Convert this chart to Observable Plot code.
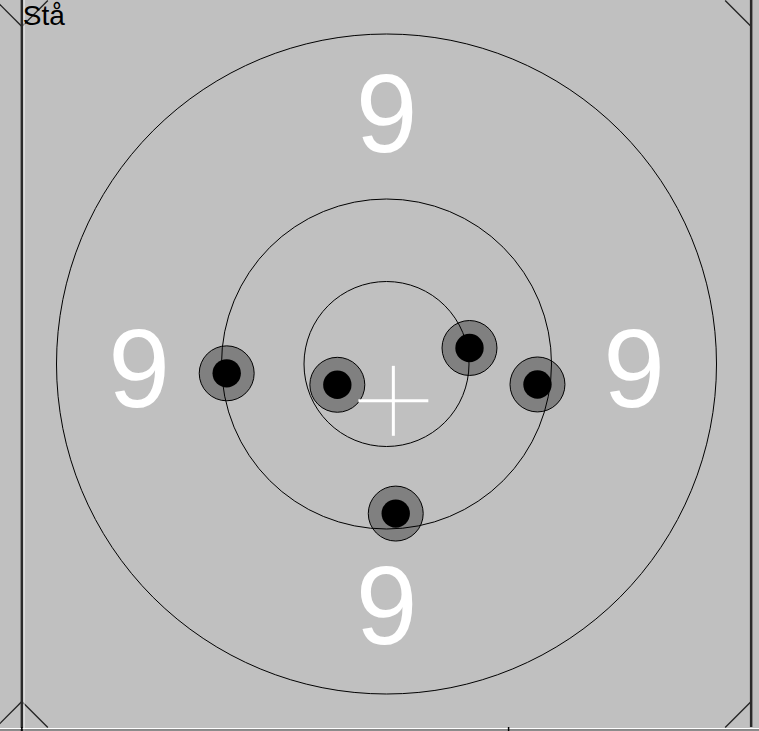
<!DOCTYPE html>
<html><head><meta charset="utf-8">
<script src="https://cdn.jsdelivr.net/npm/d3@7"></script>
<script src="https://cdn.jsdelivr.net/npm/@observablehq/plot@0.6"></script>
<style>html,body{margin:0;padding:0;background:#c0c0c0;} svg{display:block}</style>
</head><body><div id="chart"></div>
<script>
// ---- data ----
const title = "Stå";
const ringRadii = [10, 20, 40];
const ringLabels = ["9", "9", "9", "9"];
const labelX = [0, 0, -30, 30];
const labelY = [30, -29.6, -0.9, -0.9];
const shotX = [-19.37, -5.96, 10.06, 18.30, 1.12];
const shotY = [-1.13, -2.52, 1.94, -2.48, -18.13];
const shotOuterR = 3.33;
const shotInnerR = 1.72;
const crossHalf = 4.24;
const frameHalfX = 44.2;
const frameHalfY = 44.06;
const cornerCut = 3.15;
const axisTicks = [-44.2, 14.8];

// ---- layout ----
const W = 759, H = 731;
const k = 8.25;           // px per unit
const cx = 386, cy = 363.5;
const xDomain = [-cx / k, (W - cx) / k];
const yDomain = [-(H - cy) / k, cy / k];

const shots = shotX.map((x, i) => ({x, y: shotY[i]}));
const labels = ringLabels.map((t, i) => ({t, x: labelX[i], y: labelY[i]}));
const mx = d3.mean(shotX), my = d3.mean(shotY);
const cross = [
  {x1: mx - crossHalf, y1: my, x2: mx + crossHalf, y2: my},
  {x1: mx, y1: my - crossHalf, x2: mx, y2: my + crossHalf}
];
const L = -frameHalfX, R = frameHalfX, T = frameHalfY, B = -frameHalfY, c = cornerCut;
const corners = [
  {x1: L, y1: T - c, x2: L + c, y2: T},
  {x1: L, y1: T - c, x2: L - c, y2: T},
  {x1: R, y1: T - c, x2: R - c, y2: T},
  {x1: L, y1: B + c, x2: L + c, y2: B},
  {x1: L, y1: B + c, x2: L - c, y2: B},
  {x1: R, y1: B + c, x2: R - c, y2: B}
];

const chart = Plot.plot({
  width: W, height: H,
  margin: 0,
  x: {domain: xDomain, axis: null},
  y: {domain: yDomain, axis: null},
  r: {type: "identity"},
  style: {background: "#c0c0c0", fontFamily: "'Liberation Sans', Arial, Helvetica, sans-serif", overflow: "visible"},
  marks: [
    Plot.text(labels, {x: "x", y: "y", text: "t", fill: "white", fontSize: 111, textAnchor: "middle", lineAnchor: "middle"}),
    Plot.dot(shots, {x: "x", y: "y", r: () => shotOuterR * k, fill: "#808080", stroke: "black", strokeWidth: 1}),
    Plot.dot(shots, {x: "x", y: "y", r: () => shotInnerR * k, fill: "black", stroke: "none"}),
    Plot.dot(ringRadii, {x: () => 0, y: () => 0, r: d => d * k, fill: "none", stroke: "black", strokeWidth: 1}),
    Plot.link(cross, {x1: "x1", y1: "y1", x2: "x2", y2: "y2", stroke: "white", strokeWidth: 3}),
    Plot.link(corners, {x1: "x1", y1: "y1", x2: "x2", y2: "y2", stroke: "#222", strokeWidth: 1.3}),
    Plot.ruleX([L], {stroke: "#2a2a2a", strokeWidth: 2.5}),
    Plot.ruleX([L], {stroke: "#f0f0f0", strokeWidth: 1, dx: 2.2}),
    Plot.ruleX([R], {y1: B, y2: yDomain[1], stroke: "#2a2a2a", strokeWidth: 2.5}),
    Plot.ruleY([B], {stroke: "white", strokeWidth: 1, dy: 1}),
    Plot.ruleY([B], {stroke: "#555", strokeWidth: 1, dy: 2.5}),
    Plot.ruleX(axisTicks, {y1: B, y2: yDomain[0], stroke: "black", strokeWidth: 1.5}),
    Plot.text([title], {x: () => L, y: () => T, text: d => d, textAnchor: "start", lineAnchor: "top", dx: 1, dy: 5, fontSize: 28, fill: "black"})
  ]
});
document.getElementById("chart").appendChild(chart);
</script>
</body></html>
